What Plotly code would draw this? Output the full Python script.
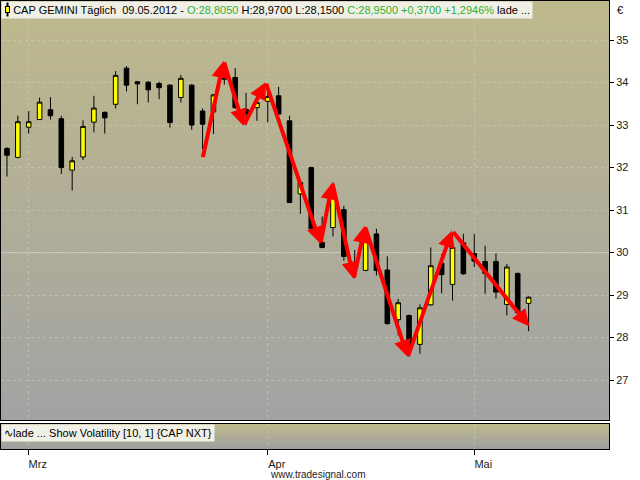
import plotly.graph_objects as go

# ---------------- data ----------------
dates = ["2012-02-28", "2012-02-29",
         "2012-03-01", "2012-03-02", "2012-03-05", "2012-03-06", "2012-03-07", "2012-03-08",
         "2012-03-09", "2012-03-12", "2012-03-13", "2012-03-14", "2012-03-15", "2012-03-16",
         "2012-03-19", "2012-03-20", "2012-03-21", "2012-03-22", "2012-03-23", "2012-03-26",
         "2012-03-27", "2012-03-28", "2012-03-29", "2012-03-30",
         "2012-04-02", "2012-04-03", "2012-04-04", "2012-04-05", "2012-04-10", "2012-04-11",
         "2012-04-12", "2012-04-13", "2012-04-16", "2012-04-17", "2012-04-18", "2012-04-19",
         "2012-04-20", "2012-04-23", "2012-04-24", "2012-04-25", "2012-04-26", "2012-04-27",
         "2012-04-30",
         "2012-05-02", "2012-05-03", "2012-05-04", "2012-05-07", "2012-05-08", "2012-05-09"]

opens = [32.45, 32.24, 32.95, 33.13, 33.36, 33.15, 31.94, 32.25, 33.07, 33.30,
         33.49, 34.34, 34.02, 34.01, 33.98, 33.94, 33.65, 33.94, 33.33, 33.31,
         34.20, 34.12, 33.37, 33.41, 33.56, 33.69, 33.10, 31.38, 32.00, 30.24,
         30.59, 31.01, 29.77, 29.58, 30.44, 29.59, 28.42, 28.52, 27.84, 28.77,
         29.75, 29.25, 30.23, 29.98, 29.79, 29.79, 28.78, 29.51, 28.805]
highs = [32.48, 33.22, 33.33, 33.65, 33.66, 33.22, 32.25, 33.11, 33.69, 33.32,
         34.27, 34.39, 34.03, 34.03, 34.02, 33.96, 34.18, 33.96, 33.39, 33.73,
         34.45, 34.34, 33.76, 33.73, 33.95, 33.90, 33.22, 31.67, 32.02, 30.85,
         31.65, 31.10, 30.06, 30.60, 30.56, 29.91, 28.91, 28.54, 28.78, 30.12,
         29.97, 30.45, 30.44, 30.44, 30.16, 29.98, 29.73, 29.53, 28.97]
lows = [31.79, 32.22, 32.80, 33.12, 33.13, 31.85, 31.46, 32.18, 32.83, 32.80,
        33.39, 33.79, 33.49, 33.53, 33.61, 32.94, 33.53, 32.89, 32.43, 32.79,
        33.95, 33.38, 33.00, 33.10, 33.06, 33.24, 31.16, 30.91, 30.54, 30.10,
        30.38, 29.81, 29.40, 29.56, 29.46, 28.30, 28.05, 27.55, 27.62, 28.75,
        29.04, 28.87, 29.48, 29.66, 29.03, 28.92, 28.52, 28.55, 28.15]
closes = [32.29, 33.08, 33.08, 33.54, 33.22, 32.00, 32.16, 32.97, 33.40, 33.17,
          34.17, 33.94, 33.97, 33.83, 33.88, 33.06, 34.10, 33.00, 33.02, 33.71,
          34.08, 33.41, 33.26, 33.53, 33.67, 33.26, 31.18, 31.65, 30.56, 30.12,
          31.38, 29.91, 29.66, 30.40, 29.58, 28.33, 28.82, 27.74, 28.70, 29.69,
          29.48, 30.12, 29.50, 29.80, 29.51, 29.07, 29.66, 28.58, 28.95]

month_ticks = ["2012-03-01", "2012-04-02", "2012-05-02"]
month_labels = ["Mrz", "Apr", "Mai"]
price_ticks = [27, 28, 29, 30, 31, 32, 33, 34, 35]

# zig-zag drawing (position in trading days, price)
zigzag_pos = [18.0, 19.94, 21.78, 23.8, 28.86, 29.94, 31.92, 32.93, 36.88, 40.96, 48.07]
zigzag_price = [32.21, 34.51, 32.98, 34.01, 30.21, 31.65, 29.38, 30.63, 27.54, 30.52, 28.26]

title_plain = "CAP GEMINI Täglich\u00a0\u00a009.05.2012 - "
title_open = "O:28,8050"
title_hl = " H:28,9700 L:28,1500 "
title_close = "C:28,9500 +0,3700 +1,2946%"
title_tail = " lade ..."
indicator_label = "∿lade ... Show Volatility [10, 1] {CAP NXT}"

# ---------------- figure ----------------
FONT = "Liberation Sans"
xs = list(range(len(dates)))
tickvals = [dates.index(d) for d in month_ticks]

fig = go.Figure()
fig.add_trace(go.Candlestick(
    x=xs, open=opens, high=highs, low=lows, close=closes,
    increasing=dict(fillcolor="#ffff00", line=dict(color="black", width=1)),
    decreasing=dict(fillcolor="#000000", line=dict(color="black", width=1)),
    whiskerwidth=0, text=dates, hoverinfo="text+y",
    xaxis="x", yaxis="y",
))
# empty trace so that the indicator panel is drawn
fig.add_trace(go.Scatter(x=[], y=[], xaxis="x2", yaxis="y2", hoverinfo="skip"))

shapes = []
def stripes(xref, yref, top, bottom, n):
    out = []
    for i in range(n):
        t = i / (n - 1)
        c = tuple(round(top[k] + (bottom[k] - top[k]) * t) for k in range(3))
        out.append(dict(type="rect", xref=xref, yref=yref, x0=0, x1=1,
                        y0=0, y1=1 - i / n,
                        fillcolor="rgb(%d,%d,%d)" % c, line=dict(width=0), layer="below"))
    return out

shapes += stripes("x domain", "y domain", (190, 185, 140), (163, 163, 163), 70)
shapes += stripes("x2 domain", "y2 domain", (190, 185, 140), (160, 160, 160), 10)
shapes.append(dict(type="line", xref="x domain", yref="y", x0=0, x1=1, y0=30, y1=30,
                   line=dict(color="rgba(225,225,218,0.5)", width=1), layer="below"))

annotations = []
for i in range(len(zigzag_pos) - 1):
    annotations.append(dict(
        x=zigzag_pos[i + 1], y=zigzag_price[i + 1], ax=zigzag_pos[i], ay=zigzag_price[i],
        xref="x", yref="y", axref="x", ayref="y", text="", showarrow=True,
        arrowhead=2, arrowsize=0.85, arrowwidth=4, arrowcolor="#ff0000", standoff=0,
    ))

annotations.append(dict(
    xref="paper", yref="paper", x=0, y=1, xanchor="left", yanchor="top",
    text="\u00a0\u00a0\u00a0" + title_plain
         + "<span style='color:#2fb12f'>" + title_open + "</span>" + title_hl
         + "<span style='color:#2fb12f'>" + title_close + "</span>" + title_tail,
    showarrow=False, bgcolor="#f1f0e7", borderpad=2,
    font=dict(family=FONT, size=11, color="black"),
))
annotations.append(dict(xref="paper", yref="paper", x=0.0115, y=0.9985, xanchor="center", yanchor="top",
                        text="", width=1, height=13, bgcolor="black", borderpad=0, showarrow=False))
annotations.append(dict(xref="paper", yref="paper", x=0.0115, y=0.9895, xanchor="center", yanchor="top",
                        text="", width=3, height=5, bgcolor="#ffff00", bordercolor="black",
                        borderwidth=1, borderpad=0, showarrow=False))
annotations.append(dict(
    xref="x2 domain", yref="y2 domain", x=0, y=1, xanchor="left", yanchor="top",
    text=indicator_label, showarrow=False, bgcolor="#f1f0e7", borderpad=2,
    font=dict(family=FONT, size=11, color="black"),
))
annotations.append(dict(xref="paper", yref="paper", x=1.01, y=0.998, xanchor="left", yanchor="top",
                        text="€", showarrow=False, font=dict(family=FONT, size=11, color="black")))
annotations.append(dict(xref="paper", yref="paper", x=0.52, y=-0.056, xanchor="center", yanchor="middle",
                        text="www.tradesignal.com", showarrow=False,
                        font=dict(family=FONT, size=10, color="#222222")))

grid = "rgba(215,215,205,0.45)"
fig.update_layout(
    width=640, height=480,
    margin=dict(l=1, r=31, t=1, b=31),
    paper_bgcolor="white", plot_bgcolor="rgba(0,0,0,0)",
    showlegend=False, boxgap=0.4,
    font=dict(family=FONT, size=11, color="black"),
    xaxis=dict(domain=[0, 1], anchor="y", range=[-0.55, 55.4], tickvals=tickvals,
               showticklabels=False, ticks="", showgrid=True, gridcolor=grid, griddash="dot",
               showline=True, mirror=True, linecolor="black", linewidth=1, zeroline=False,
               rangeslider=dict(visible=False)),
    yaxis=dict(domain=[0.0647, 1], anchor="x", side="right", range=[26.06, 35.92],
               tickvals=price_ticks, ticks="outside", ticklen=4, tickcolor="black",
               showgrid=True, gridcolor=grid, griddash="dot",
               showline=True, mirror=True, linecolor="black", linewidth=1, zeroline=False,
               tickfont=dict(family=FONT, size=11, color="#1a1a1a")),
    xaxis2=dict(domain=[0, 1], anchor="y2", matches="x", tickvals=tickvals, ticktext=month_labels,
                ticks="outside", ticklen=5, tickcolor="black", ticklabelshift=9,
                showgrid=True, gridcolor=grid, griddash="dot",
                showline=True, mirror=True, linecolor="black", linewidth=1, zeroline=False,
                tickfont=dict(family=FONT, size=11, color="#1a1a1a")),
    yaxis2=dict(domain=[0, 0.0558], anchor="x2", range=[0, 1], showticklabels=False, ticks="",
                showgrid=False, showline=True, mirror=True, linecolor="black", linewidth=1,
                zeroline=False),
    shapes=shapes, annotations=annotations,
)

fig.write_html("out.html", config={"displayModeBar": False},
               post_script="document.body.style.margin='0';document.body.style.overflow='hidden';")
